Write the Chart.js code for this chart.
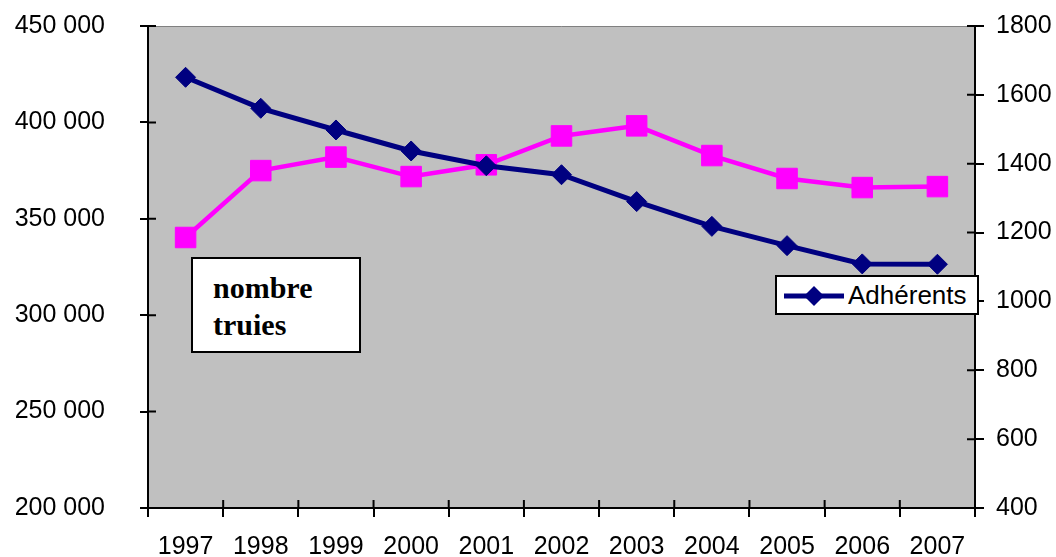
<!DOCTYPE html>
<html>
<head>
<meta charset="utf-8">
<script src="https://cdn.jsdelivr.net/npm/chart.js@4"></script>
<style>
  body { margin: 0; background: #fff; }
  #wrap { position: relative; width: 1056px; height: 557px; }
  #note {
    position: absolute; left: 191px; top: 257px; width: 170px; height: 96px;
    box-sizing: border-box; border: 2px solid #000; background: #fff;
    padding: 10px 0 0 20px;
    font: bold 30px "Liberation Serif", "Times New Roman", serif; line-height: 37px; color: #000;
  }
  #legend {
    position: absolute; left: 775px; top: 275px; width: 204px; height: 40px;
    box-sizing: border-box; border: 2px solid #000; background: #fff;
    font: 26px "Liberation Sans", Arial, sans-serif; color: #000;
  }
  #legend svg { position: absolute; left: 6px; top: 8px; }
  #legend span { position: absolute; left: 71px; top: 3px; line-height: 30px; }
</style>
</head>
<body>
<div id="wrap">
  <canvas id="chart" width="1056" height="557"></canvas>
  <div id="note">nombre<br>truies</div>
  <div id="legend">
    <svg width="62" height="22"><line x1="1" y1="11" x2="61" y2="11" stroke="#000080" stroke-width="5"/><polygon points="31,1 41,11 31,21 21,11" fill="#000080"/></svg>
    <span>Adhérents</span>
  </div>
</div>
<script>
const years = ['1997', '1998', '1999', '2000', '2001', '2002', '2003', '2004', '2005', '2006', '2007'];
const adherents = [1651, 1561, 1498, 1437, 1394, 1368, 1290, 1218, 1162, 1109, 1108];
const truies = [340300, 375000, 382000, 371900, 378000, 393000, 398200, 382800, 370900, 366200, 366700];

const font = { family: '"Liberation Sans", Arial, sans-serif', size: 25 };

function spaced(v) {
    return String(v).replace(/\B(?=(\d{3})+(?!\d))/g, ' ');
}

// keep the plot box where the reference has it
function noPad(s) {
    s.paddingTop = 0;
    s.paddingBottom = 0;
    s.paddingLeft = 0;
    s.paddingRight = 0;
}

// grey plot background, thin top border and the inner half of the cross ticks
const plotDecor = {
    id: 'plotDecor',
    beforeDraw(c) {
        const a = c.chartArea, ctx = c.ctx;
        ctx.save();
        ctx.fillStyle = '#c0c0c0';
        ctx.fillRect(a.left, a.top, a.right - a.left, a.bottom - a.top);
        ctx.restore();
    },
    afterDraw(c) {
        const a = c.chartArea, ctx = c.ctx;
        ctx.save();
        ctx.strokeStyle = '#808080';
        ctx.lineWidth = 1;
        ctx.beginPath();
        ctx.moveTo(a.left, a.top + 0.5);
        ctx.lineTo(a.right, a.top + 0.5);
        ctx.stroke();
        ctx.strokeStyle = '#000';
        ctx.lineWidth = 2;
        ctx.beginPath();
        const x = c.scales.x;
        for (let i = 0; i <= years.length; i++) {
            const px = x.getPixelForValue(i - 0.5);
            ctx.moveTo(px, a.bottom);
            ctx.lineTo(px, a.bottom - 8);
        }
        c.scales.y.ticks.forEach(t => {
            const py = c.scales.y.getPixelForValue(t.value);
            ctx.moveTo(a.left, py);
            ctx.lineTo(a.left + 8, py);
        });
        c.scales.y1.ticks.forEach(t => {
            const py = c.scales.y1.getPixelForValue(t.value);
            ctx.moveTo(a.right, py);
            ctx.lineTo(a.right - 8, py);
        });
        ctx.stroke();
        ctx.restore();
    }
};

new Chart(document.getElementById('chart'), {
    type: 'line',
    data: {
        labels: years,
        datasets: [
            {
                label: 'Adhérents',
                data: adherents,
                yAxisID: 'y1',
                borderColor: '#000080',
                backgroundColor: '#000080',
                borderWidth: 5,
                pointStyle: 'rectRot',
                pointRadius: 10,
                pointBorderWidth: 1,
                tension: 0
            },
            {
                label: 'nombre truies',
                data: truies,
                yAxisID: 'y',
                borderColor: '#ff00ff',
                backgroundColor: '#ff00ff',
                borderWidth: 4.5,
                pointStyle: 'rect',
                pointRadius: 14.5,
                pointBorderWidth: 1,
                tension: 0
            }
        ]
    },
    options: {
        responsive: false,
        animation: false,
        layout: { padding: { top: 26, left: 0, right: 0, bottom: 0 } },
        plugins: {
            legend: { display: false },
            tooltip: { enabled: false }
        },
        scales: {
            x: {
                type: 'category',
                offset: true,
                grid: { offset: true, drawOnChartArea: false, drawTicks: true, tickLength: 9, color: '#000', lineWidth: 2 },
                border: { color: '#000', width: 2 },
                ticks: { font: font, color: '#000', padding: 15, maxRotation: 0, autoSkip: false },
                afterFit: s => { s.height = 49; noPad(s); }
            },
            y: {
                position: 'left',
                min: 200000,
                max: 450000,
                grid: { drawOnChartArea: false, tickLength: 8, color: '#000', lineWidth: 2 },
                border: { color: '#000', width: 2 },
                ticks: { stepSize: 50000, font: font, color: '#000', padding: 35, callback: v => spaced(v) },
                afterFit: s => { s.width = 148; noPad(s); }
            },
            y1: {
                position: 'right',
                min: 400,
                max: 1800,
                grid: { drawOnChartArea: false, tickLength: 9, color: '#000', lineWidth: 2 },
                border: { color: '#000', width: 2 },
                ticks: { stepSize: 200, font: font, color: '#000', padding: 12, callback: v => String(v) },
                afterFit: s => { s.width = 81; noPad(s); }
            }
        }
    },
    plugins: [plotDecor]
});
</script>
</body>
</html>
